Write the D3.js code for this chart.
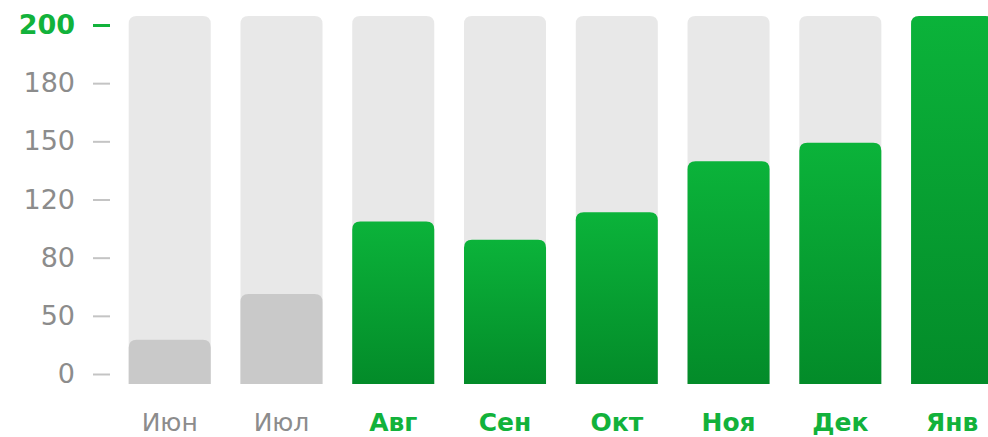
<!DOCTYPE html>
<html><head><meta charset="utf-8">
<script src="https://cdn.jsdelivr.net/npm/d3@7/dist/d3.min.js"></script>
<style>html,body{margin:0;padding:0;background:#fff;}svg{display:block;}</style>
</head><body>
<svg id="chart" width="988" height="437"></svg>
<script>
const months = ["Июн","Июл","Авг","Сен","Окт","Ноя","Дек","Янв"];
const values = [36, 64, 106, 94, 112, 139, 148, 200];
const active = [false, false, true, true, true, true, true, true];
const tickValues = [0, 50, 80, 120, 150, 180, 200];
const maxValue = 200;

const svg = d3.select("#chart");
const font = "'DejaVu Sans', sans-serif";
const green = "#12b23b";
const grey = "#8c8c8c";

const axisTop = 25, axisBottom = 374;
const barTop = 16, barBottom = 384;
const evenRange = (a, b) => tickValues.map((d, i) => a + (b - a) * i / (tickValues.length - 1));
const yAxisScale = d3.scaleLinear().domain(tickValues).range(evenRange(axisBottom, axisTop));
const yBar = d3.scaleLinear().domain(tickValues).range(evenRange(barBottom, barTop));

const x = d3.scaleBand().domain(months).range([128.7, 993.1]).paddingInner(0.266).paddingOuter(0);

const defs = svg.append("defs");
const grad = defs.append("linearGradient").attr("id", "g").attr("x1", 0).attr("y1", 0).attr("x2", 0).attr("y2", 1);
grad.append("stop").attr("offset", "0%").attr("stop-color", "#0bb33a");
grad.append("stop").attr("offset", "100%").attr("stop-color", "#038b29");

const r = 8;
function topRounded(x0, y0, w, y1) {
  const rr = Math.min(r, (y1 - y0) / 2, w / 2);
  return `M${x0},${y1}V${y0 + rr}Q${x0},${y0} ${x0 + rr},${y0}H${x0 + w - rr}Q${x0 + w},${y0} ${x0 + w},${y0 + rr}V${y1}Z`;
}

svg.append("g").selectAll("path").data(months).join("path")
  .attr("d", d => topRounded(x(d), yBar(maxValue), x.bandwidth(), yBar(0)))
  .attr("fill", "#e8e8e8");

svg.append("g").selectAll("path").data(months).join("path")
  .attr("d", (d, i) => topRounded(x(d), yBar(values[i]), x.bandwidth(), yBar(0)))
  .attr("fill", (d, i) => active[i] ? "url(#g)" : "#c9c9c9");

const yAxis = d3.axisLeft(yAxisScale).tickValues(tickValues).tickSize(17).tickPadding(18).tickFormat(d3.format("d"));
const gy = svg.append("g").attr("transform", "translate(110,0)").call(yAxis);
gy.select(".domain").remove();
gy.selectAll(".tick line")
  .attr("stroke", d => d === maxValue ? green : "#c4c4c4")
  .attr("stroke-width", d => d === maxValue ? 3 : 2);
gy.selectAll(".tick text")
  .attr("fill", d => d === maxValue ? green : grey)
  .attr("font-family", font)
  .attr("font-size", 27)
  .attr("font-weight", d => d === maxValue ? 700 : 400);

const xAxis = d3.axisBottom(x).tickSize(0).tickPadding(0);
const gx = svg.append("g").attr("transform", "translate(0,431)").call(xAxis);
gx.select(".domain").remove();
gx.selectAll(".tick text")
  .attr("fill", (d, i) => active[i] ? green : grey)
  .attr("font-family", font)
  .attr("font-size", 25)
  .attr("font-weight", (d, i) => active[i] ? 700 : 400)
  .attr("dy", 0);
</script>
</body></html>
